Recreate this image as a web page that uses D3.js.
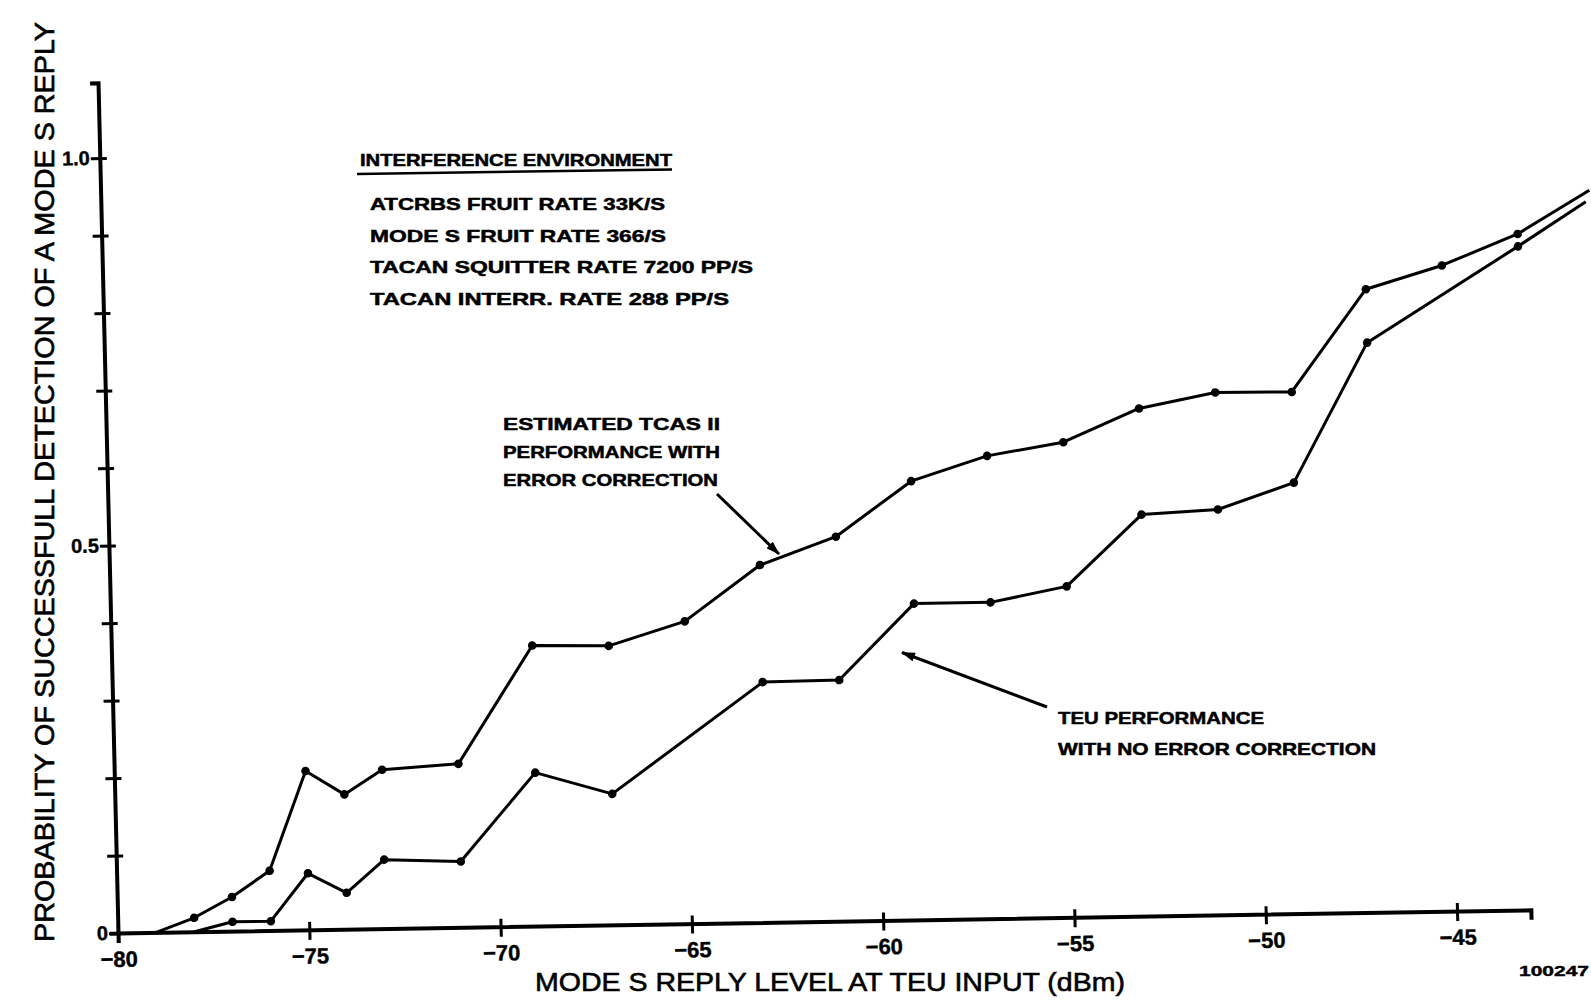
<!DOCTYPE html>
<html>
<head>
<meta charset="utf-8">
<title>Mode S reply detection probability</title>
<script src="https://cdn.jsdelivr.net/npm/d3@7"></script>
<style>
  html, body { margin: 0; padding: 0; background: #fff; }
  svg { display: block; }
  text { font-family: "Liberation Sans", Arial, Helvetica, sans-serif; fill: #000; }
</style>
</head>
<body>
<svg id="chart" width="1591" height="1004"></svg>
<script>
// Reply level at the TEU input (dBm) and probability of a successful decode
const levelsTcas = [-79, -78, -77, -76, -75, -74, -73, -71, -69, -67, -65, -63, -61, -59, -57, -55, -53, -51, -49, -47, -45, -43, -41.1];
const probTcas   = [0, 0.018, 0.044, 0.077, 0.205, 0.174, 0.205, 0.211, 0.362, 0.360, 0.390, 0.461, 0.496, 0.566, 0.597, 0.613, 0.655, 0.674, 0.673, 0.804, 0.833, 0.872, 0.927];

const levelsTeu = [-78, -77, -76, -75, -74, -73, -71, -69, -67, -63, -61, -59, -57, -55, -53, -51, -49, -47, -43, -41.2];
const probTeu   = [0, 0.012, 0.012, 0.073, 0.047, 0.089, 0.085, 0.198, 0.169, 0.310, 0.311, 0.408, 0.408, 0.427, 0.518, 0.523, 0.556, 0.735, 0.856, 0.912];

// Axis ticks and labels
const xTickValues = [-80, -75, -70, -65, -60, -55, -50, -45];
const xTickLabels = ["\u221280", "\u221275", "\u221270", "\u221265", "\u221260", "\u221255", "\u221250", "\u221245"];
const yTickValues = [0, 0.1, 0.2, 0.3, 0.4, 0.5, 0.6, 0.7, 0.8, 0.9, 1.0];
const yLabelValues = [0, 0.5, 1.0];
const yLabelText   = ["0", "0.5", "1.0"];
const xAxisEnd = -43.07;
const yAxisEnd = 1.097;

const xTitle = "MODE S REPLY LEVEL AT TEU INPUT (dBm)";
const yTitle = "PROBABILITY OF SUCCESSFULL DETECTION OF A MODE S REPLY";
const envTitle = "INTERFERENCE ENVIRONMENT";
const envLines = ["ATCRBS FRUIT RATE 33K/S", "MODE S FRUIT RATE 366/S", "TACAN SQUITTER RATE 7200 PP/S", "TACAN INTERR. RATE 288 PP/S"];
const tcasNote = ["ESTIMATED TCAS II", "PERFORMANCE WITH", "ERROR CORRECTION"];
const teuNote  = ["TEU PERFORMANCE", "WITH NO ERROR CORRECTION"];
const figureId = "100247";

const svg = d3.select("#chart");
svg.append("rect").attr("width", 1591).attr("height", 1004).attr("fill", "#fff");

// arrowhead marker
svg.append("defs").append("marker")
  .attr("id", "head").attr("viewBox", "0 0 14 9").attr("refX", 13).attr("refY", 4.5)
  .attr("markerWidth", 14).attr("markerHeight", 9).attr("markerUnits", "userSpaceOnUse")
  .attr("orient", "auto")
  .append("path").attr("d", "M0,0 L14,4.5 L0,9 Z").attr("fill", "#000");

// The plotting frame sits slightly skewed on the sheet
const plot = svg.append("g").attr("transform", "matrix(1,-0.0164,0.0235,1,118,933)");

const x = d3.scaleLinear().domain([-80, -45]).range([0, 1339]);
const y = d3.scaleLinear().domain([0, 1]).range([0, -775]);

const labelFont = (sel, size) => sel.attr("font-size", size).attr("font-weight", "bold")
  .attr("font-family", null).attr("stroke", "#000").attr("stroke-width", 0.4);

// x axis
const xAxisScale = x.copy().domain([-80, xAxisEnd]).range([0, x(xAxisEnd)]);
const gx = plot.append("g")
  .call(d3.axisBottom(xAxisScale).tickValues(xTickValues).tickSizeOuter(0).tickSize(10)
    .tickFormat((d, i) => xTickLabels[i]));
gx.select(".domain").attr("stroke", "#000").attr("stroke-width", 4);
gx.selectAll(".tick line").attr("y1", -8).attr("y2", 10).attr("stroke-width", 3);
gx.selectAll(".tick text").attr("y", 14).attr("dy", "0.9em").call(labelFont, 22);

// y axis
const yAxisScale = y.copy().domain([0, yAxisEnd]).range([0, y(yAxisEnd)]);
const gy = plot.append("g")
  .call(d3.axisLeft(yAxisScale).tickValues(yTickValues).tickSizeOuter(0).tickSize(8)
    .tickFormat(d => {
      const k = yLabelValues.findIndex(v => Math.abs(v - d) < 1e-9);
      return k >= 0 ? yLabelText[k] : "";
    }));
gy.select(".domain").attr("stroke", "#000").attr("stroke-width", 4);
gy.selectAll(".tick line").attr("x1", -9).attr("x2", 7).attr("stroke-width", 3);
gy.selectAll(".tick text").attr("x", -10).call(labelFont, 20);
gy.selectAll(".domain, .tick line").attr("stroke-linecap", "butt");

// curves
const line = d3.line().x(d => x(d[0])).y(d => y(d[1]));
const series = [
  levelsTcas.map((v, i) => [v, probTcas[i]]),
  levelsTeu.map((v, i) => [v, probTeu[i]])
];
series.forEach(pts => {
  plot.append("path").datum(pts).attr("d", line)
    .attr("fill", "none").attr("stroke", "#000").attr("stroke-width", 3)
    .attr("stroke-linejoin", "round");
  plot.selectAll(null).data(pts.slice(1, -1)).enter().append("circle")
    .attr("cx", d => x(d[0])).attr("cy", d => y(d[1])).attr("r", 4.3).attr("fill", "#000");
});

// axis titles
svg.append("text").attr("x", 535).attr("y", 991)
  .attr("font-size", 26).attr("textLength", 590).attr("lengthAdjust", "spacingAndGlyphs")
  .attr("stroke", "#000").attr("stroke-width", 0.6).text(xTitle);
svg.append("text").attr("transform", "translate(54,942) rotate(-90)")
  .attr("font-size", 27).attr("textLength", 920).attr("lengthAdjust", "spacingAndGlyphs")
  .attr("stroke", "#000").attr("stroke-width", 0.6).text(yTitle);

// annotation text blocks
function note(t, x0, y0, w) {
  svg.append("text").attr("x", x0).attr("y", y0)
    .attr("font-size", 16.5).attr("font-weight", "bold")
    .attr("stroke", "#000").attr("stroke-width", 0.5)
    .attr("textLength", w).attr("lengthAdjust", "spacingAndGlyphs").text(t);
}
function block(lines, x0, y0, dy, widths) {
  lines.forEach((t, i) => note(t, x0, y0 + i * dy, widths[i]));
}
note(envTitle, 360, 165.5, 312);
svg.append("path").attr("d", "M357,174 Q520,172 672,169.5")
  .attr("fill", "none").attr("stroke", "#000").attr("stroke-width", 2.5);
block(envLines, 370, 210, 31.5, [295, 296, 383, 359]);
block(tcasNote, 503, 430, 28, [217, 217, 215]);
block(teuNote, 1058, 723.5, 31.5, [206, 318]);

// leader arrows
svg.append("line").attr("x1", 717).attr("y1", 494).attr("x2", 779).attr("y2", 554)
  .attr("stroke", "#000").attr("stroke-width", 3).attr("marker-end", "url(#head)");
svg.append("line").attr("x1", 1047).attr("y1", 707).attr("x2", 902).attr("y2", 652.5)
  .attr("stroke", "#000").attr("stroke-width", 3).attr("marker-end", "url(#head)");

// figure number
svg.append("text").attr("x", 1519).attr("y", 976).attr("font-size", 14).attr("font-weight", "bold")
  .attr("stroke", "#000").attr("stroke-width", 0.4)
  .attr("textLength", 70).attr("lengthAdjust", "spacingAndGlyphs").text(figureId);
</script>
</body>
</html>
